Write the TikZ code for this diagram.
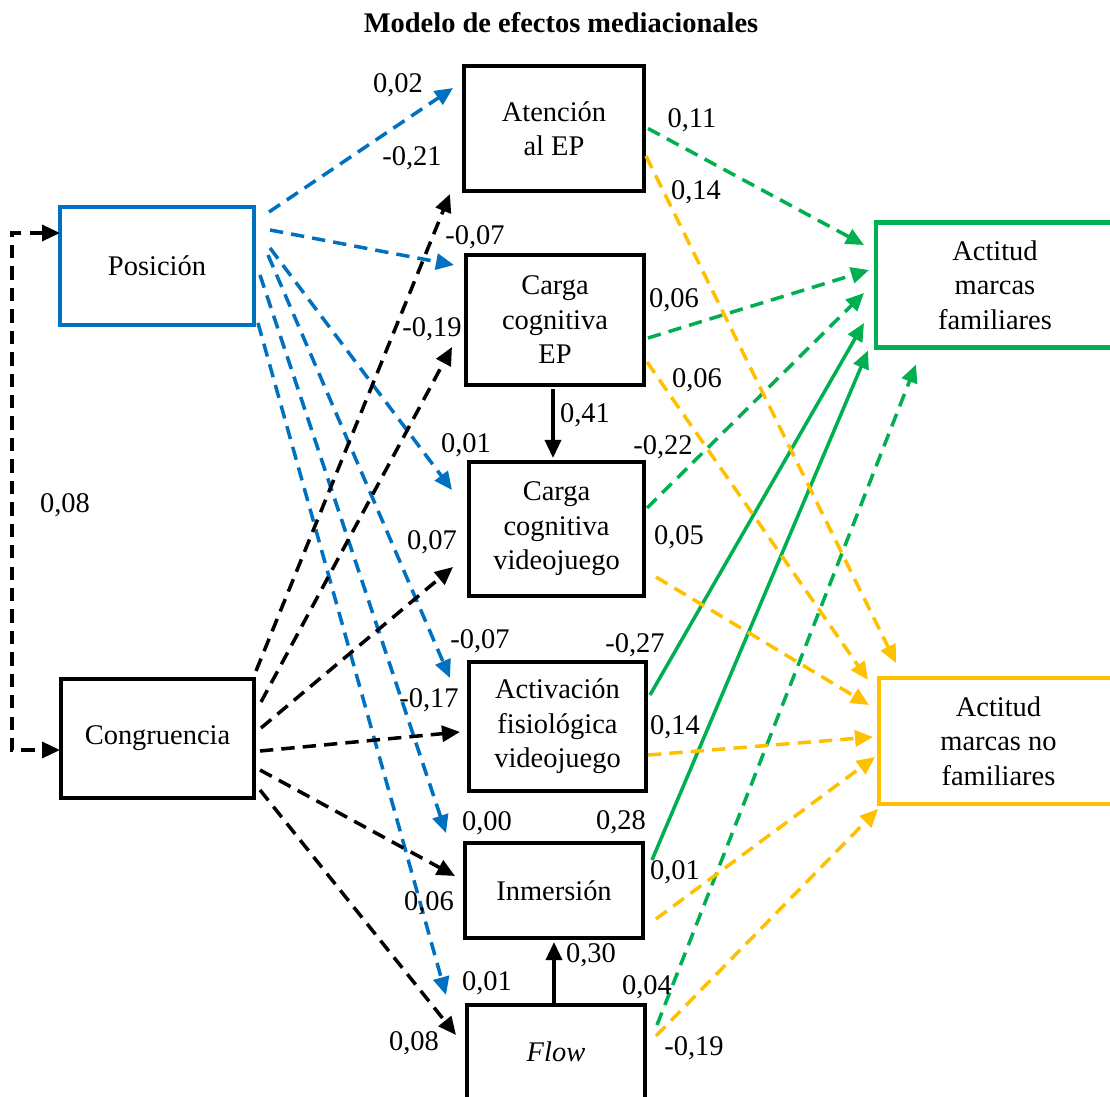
\documentclass[tikz,border=0pt]{standalone}
\usepackage{fontspec}
\setmainfont{Liberation Serif}
\usetikzlibrary{arrows.meta}
\definecolor{posblue}{RGB}{0,112,192}
\definecolor{famgreen}{RGB}{0,176,80}
\definecolor{nofamorange}{RGB}{255,192,0}

\tikzset{
  >={Triangle[length=0.36cm,width=0.32cm]},
  var/.style={draw, line width=2.3pt, align=center, inner sep=0pt,
    font=\fontsize{16.2}{19.6}\selectfont},
  coef/.style={inner sep=0pt, font=\fontsize{16.2}{19.6}\selectfont},
  efecto/.style={line width=2pt, ->},
  disc/.style={efecto, dash pattern=on 7.6pt off 4.6pt},
}

\begin{document}
\begin{tikzpicture}[line join=miter, x=0.02cm, y=-0.02cm]
	\useasboundingbox (0,0) rectangle (1110,1097);
	\clip (0,0) rectangle (1110,1097);

	\node[font=\fontsize{16.2}{19.6}\selectfont\bfseries] (titulo) at (561,23) {Modelo de efectos mediacionales};

	% exogenas
	\node[var, draw=posblue, minimum width=3.88cm, minimum height=2.36cm] (pos) at (157,266) {Posición};
	\node[var, minimum width=3.86cm, minimum height=2.38cm] (con) at (157.5,738.5) {Congruencia};

	% mediadores
	\node[var, minimum width=3.6cm, minimum height=2.5cm] (ate) at (554,128.5) {Atención\\al EP};
	\node[var, minimum width=3.56cm, minimum height=2.6cm] (cep) at (555,320) {Carga\\cognitiva\\EP};
	\node[var, minimum width=3.5cm, minimum height=2.68cm] (cvj) at (556.5,529) {Carga\\cognitiva\\videojuego};
	\node[var, minimum width=3.54cm, minimum height=2.58cm] (act) at (557.5,726.5) {Activación\\fisiológica\\videojuego};
	\node[var, minimum width=3.56cm, minimum height=1.9cm] (inm) at (554,890.5) {Inmersión};
	\node[var, minimum width=3.56cm, minimum height=1.88cm] (flw) at (556,1052) {\itshape Flow};

	% actitudes
	\node[var, draw=famgreen, minimum width=4.76cm, minimum height=2.5cm] (amf) at (995,285) {Actitud\\marcas\\familiares};
	\node[var, draw=nofamorange, minimum width=4.78cm, minimum height=2.52cm] (anf) at (998.5,741) {Actitud\\marcas no\\familiares};

	% covarianza
	\draw[disc, <->] ([shift={(2,-33)}]pos.west) -- ++(-48,0) |- ([shift={(1,11.5)}]con.west);
	\node[coef] (cov) at (65,505) {0,08};

	% Posicion -> mediadores
	\draw[disc, posblue] ([shift={(13,-54)}]pos.east) -- ([shift={(-9,-40.5)}]ate.west);
	\draw[disc, posblue] ([shift={(14,-36)}]pos.east) -- ([shift={(-10,-55)}]cep.west);
	\draw[disc, posblue] ([shift={(14,-18)}]pos.east) -- ([shift={(-15,-39)}]cvj.west);
	\draw[disc, posblue] ([shift={(12,-11)}]pos.east) -- ([shift={(-17,-48.5)}]act.west);
	\draw[disc, posblue] ([shift={(4,9)}]pos.east) -- ([shift={(-17,-57.5)}]inm.west);
	\draw[disc, posblue] ([shift={(2,57)}]pos.east) -- ([shift={(-19,-57)}]flw.west);

	% Congruencia -> mediadores
	\draw[disc] ([shift={(0,-6)}]con.north east) -- ([shift={(-12,1)}]ate.south west);
	\draw[disc] ([shift={(5,-36.5)}]con.east) -- ([shift={(-12,27)}]cep.west);
	\draw[disc] ([shift={(5,-10.5)}]con.east) -- ([shift={(-14,38)}]cvj.west);
	\draw[disc] ([shift={(4,12.5)}]con.east) -- ([shift={(-7,5.5)}]act.west);
	\draw[disc] ([shift={(4,31.5)}]con.east) -- ([shift={(-8,-14.5)}]inm.west);
	\draw[disc] ([shift={(4,51.5)}]con.east) -- ([shift={(-9,-17)}]flw.west);

	% entre mediadores
	\draw[efecto] ([shift={(-2,2)}]cep.south) -- ([shift={(-3.5,-2)}]cvj.north);
	\draw[efecto] ([shift={(-2,0)}]flw.north) -- ([shift={(0,2)}]inm.south);

	% mediadores -> marcas familiares
	\draw[disc, famgreen] ([shift={(2,0)}]ate.east) -- ([shift={(-10,-40)}]amf.west);
	\draw[disc, famgreen] ([shift={(2,18)}]cep.east) -- ([shift={(-5,-15)}]amf.west);
	\draw[disc, famgreen] ([shift={(1,-21)}]cvj.east) -- ([shift={(-10,8)}]amf.west);
	\draw[efecto, famgreen] ([shift={(2,-31.5)}]act.east) -- ([shift={(-10,38)}]amf.west);
	\draw[efecto, famgreen] ([shift={(7,-30.5)}]inm.east) -- ([shift={(-6,1)}]amf.south west);
	\draw[disc, famgreen] ([shift={(10,-27)}]flw.east) -- ([shift={(42,15)}]amf.south west);

	% mediadores -> marcas no familiares
	\draw[disc, nofamorange] ([shift={(0,27.5)}]ate.east) -- ([shift={(19,-13)}]anf.north west);
	\draw[disc, nofamorange] ([shift={(1,42)}]cep.east) -- ([shift={(-9,4)}]anf.north west);
	\draw[disc, nofamorange] ([shift={(10,48)}]cvj.east) -- ([shift={(-8,-36)}]anf.west);
	\draw[disc, nofamorange] ([shift={(0,28.5)}]act.east) -- ([shift={(-4,-4)}]anf.west);
	\draw[disc, nofamorange] ([shift={(11,28.5)}]inm.east) -- ([shift={(-2,16)}]anf.west);
	\draw[disc, nofamorange] ([shift={(9,-16)}]flw.east) -- ([shift={(1,3)}]anf.south west);

	% coeficientes
	\node[coef] (b1) at (398,85) {0,02};
	\node[coef] (k1) at (412,158) {-0,21};
	\node[coef] (b2) at (475,237) {-0,07};
	\node[coef] (k2) at (432,329) {-0,19};
	\node[coef] (b3) at (466,445) {0,01};
	\node[coef] (k3) at (432,542) {0,07};
	\node[coef] (b4) at (480,641) {-0,07};
	\node[coef] (k4) at (429,700) {-0,17};
	\node[coef] (b5) at (487,823) {0,00};
	\node[coef] (k5) at (429,903) {0,06};
	\node[coef] (b6) at (487,983) {0,01};
	\node[coef] (k6) at (414,1043) {0,08};
	\node[coef] (m1) at (585,415) {0,41};
	\node[coef] (m2) at (591,955) {0,30};
	\node[coef] (g1) at (692,120) {0,11};
	\node[coef] (o1) at (696,192) {0,14};
	\node[coef] (g2) at (674,300) {0,06};
	\node[coef] (o2) at (697,380) {0,06};
	\node[coef] (g3) at (663,447) {-0,22};
	\node[coef] (o3) at (679,537) {0,05};
	\node[coef] (g4) at (635,645) {-0,27};
	\node[coef] (o4) at (675,727) {0,14};
	\node[coef] (g5) at (621,822) {0,28};
	\node[coef] (o5) at (675,872) {0,01};
	\node[coef] (g6) at (647,987) {0,04};
	\node[coef] (o6) at (694,1048) {-0,19};
\end{tikzpicture}
\end{document}
